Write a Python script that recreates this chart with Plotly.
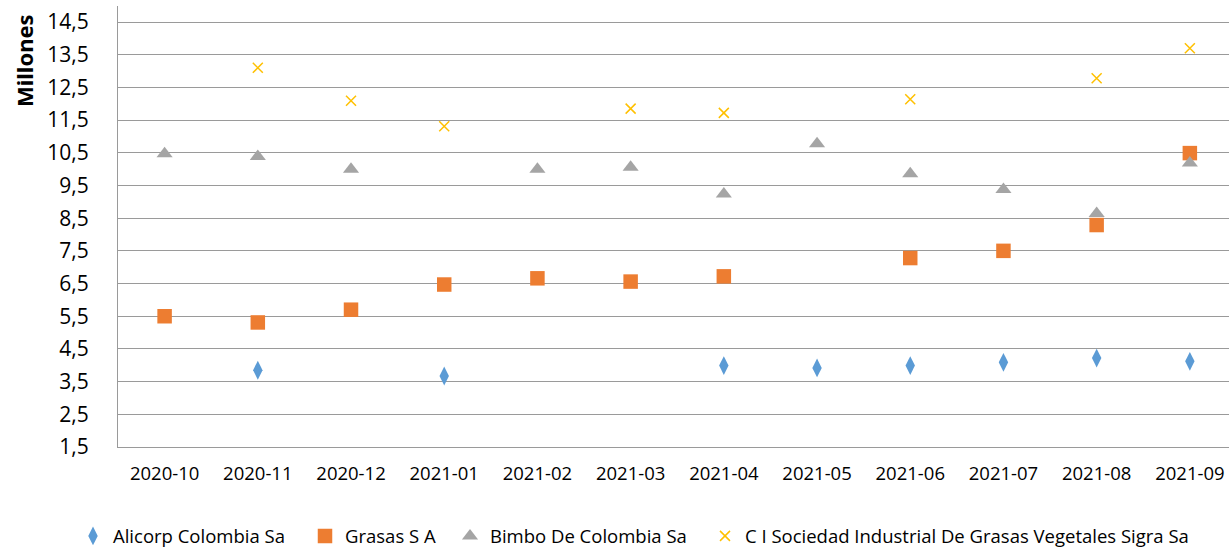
import plotly.graph_objects as go

months = ["2020-10", "2020-11", "2020-12", "2021-01", "2021-02", "2021-03",
          "2021-04", "2021-05", "2021-06", "2021-07", "2021-08", "2021-09"]

alicorp = [None, 3.85, None, 3.67, None, None, 3.99, 3.92, 3.99, 4.09, 4.22, 4.12]
grasas = [5.50, 5.31, 5.70, 6.47, 6.66, 6.56, 6.72, None, 7.28, 7.50, 8.29, 10.49]
bimbo = [10.47, 10.39, 10.00, None, 10.00, 10.06, 9.24, 10.78, 9.86, 9.38, 8.64, 10.19]
sigra = [None, 13.10, 12.09, 11.31, None, 11.85, 11.72, None, 12.14, None, 12.78, 13.70]

names = ["Alicorp Colombia Sa", "Grasas S A", "Bimbo De Colombia Sa",
         "C I Sociedad Industrial De Grasas Vegetales Sigra Sa"]
y_ticks = [1.5, 2.5, 3.5, 4.5, 5.5, 6.5, 7.5, 8.5, 9.5, 10.5, 11.5, 12.5, 13.5, 14.5]

FONT = "Open Sans"
L, W = 118, 1111
PLOT_BOTTOM, PLOT_H = 446.7, 440.7


def px_x(p):
    return (p - L) / W


def px_y(p):
    return (PLOT_BOTTOM - p) / PLOT_H


fig = go.Figure()
fig.add_trace(go.Scatter(x=list(range(12)), y=alicorp, mode="markers", name=names[0],
                         legend="legend",
                         marker=dict(symbol="diamond-tall", size=13.5, color="#5B9BD5")))
fig.add_trace(go.Scatter(x=list(range(12)), y=grasas, mode="markers", name=names[1],
                         legend="legend2",
                         marker=dict(symbol="square", size=14.5, color="#ED7D31")))
fig.add_trace(go.Scatter(x=list(range(12)), y=bimbo, mode="markers", name=names[2],
                         legend="legend3",
                         marker=dict(symbol="triangle-up", size=14, color="#A5A5A5")))
fig.add_trace(go.Scatter(x=list(range(12)), y=sigra, mode="markers", name=names[3],
                         legend="legend4",
                         marker=dict(symbol="x-thin-open", size=10,
                                     line=dict(color="#FFC000", width=1.5), color="#FFC000")))

leg_common = dict(orientation="h", yanchor="middle", y=px_y(536), xanchor="left",
                  font=dict(family=FONT, size=18.5, color="#000000"), itemwidth=30,
                  bgcolor="rgba(0,0,0,0)")
leg_x = [73, 305, 450, 705]

fig.update_layout(
    width=1229, height=549,
    margin=dict(l=L, r=0, t=6, b=102, autoexpand=False),
    paper_bgcolor="white", plot_bgcolor="white",
    separators=",.",
    font=dict(family=FONT, size=18, color="#000000"),
    showlegend=True,
    legend=dict(leg_common, x=px_x(leg_x[0])),
    legend2=dict(leg_common, x=px_x(leg_x[1])),
    legend3=dict(leg_common, x=px_x(leg_x[2])),
    legend4=dict(leg_common, x=px_x(leg_x[3])),
    xaxis=dict(range=[-0.5, 11.42], tickmode="array", tickvals=list(range(12)),
               ticktext=months, showgrid=False, zeroline=False,
               showline=True, linecolor="#9a9a9a", linewidth=1,
               ticks="", ticklabelstandoff=10, tickfont=dict(size=18.5)),
    yaxis=dict(range=[1.5, 14.99], tickmode="array", tickvals=y_ticks,
               ticktext=[f"{v:.1f}".replace(".", ",") for v in y_ticks],
               showgrid=True, gridcolor="#9a9a9a", gridwidth=1, zeroline=False,
               showline=True, linecolor="#9a9a9a", linewidth=1,
               ticks="", ticklabelstandoff=24, tickfont=dict(size=21)),
    annotations=[dict(text="<b>Millones</b>", xref="paper", yref="paper",
                      x=px_x(24), y=px_y(61), xanchor="center", yanchor="middle",
                      textangle=-90, showarrow=False,
                      font=dict(family="Noto Sans", size=22, color="#000000"))],
)

fig.write_html("out.html", config={"displayModeBar": False},
               post_script="document.body.style.margin='0';")
